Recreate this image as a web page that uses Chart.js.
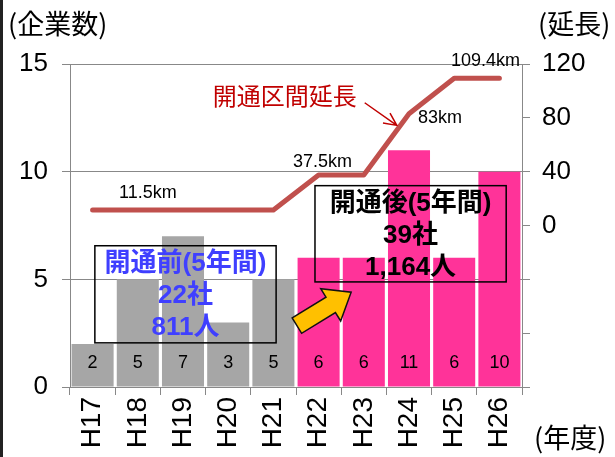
<!DOCTYPE html>
<html>
<head>
<meta charset="utf-8">
<script src="https://cdn.jsdelivr.net/npm/chart.js@4.4.1/dist/chart.umd.min.js"></script>
<style>
  html, body { margin: 0; padding: 0; background: #fff; }
  #wrap { position: relative; width: 615px; height: 457px; }
  #edge { position: absolute; left: 0; top: 0; width: 3px; height: 457px; background: #222; }
</style>
</head>
<body>
<div id="wrap">
  <canvas id="chart"></canvas>
  <div id="edge"></div>
</div>
<script>
// data
const years = ['H17', 'H18', 'H19', 'H20', 'H21', 'H22', 'H23', 'H24', 'H25', 'H26'];
const companies = [2, 5, 7, 3, 5, 6, 6, 11, 6, 10];
const lengthKm = [11.5, 11.5, 11.5, 11.5, 11.5, 37.5, 37.5, 83, 109.4, 109.4];
const kmLabelIdx = [1, 5, 7, 9];
const kmLabels = ['11.5km', '37.5km', '83km', '109.4km'];
const beforeText = ['開通前(5年間)', '22社', '811人'];
const afterText = ['開通後(5年間)', '39社', '1,164人'];

const GRAY = '#A6A6A6';
const PINK = '#FF3399';
const LINE = '#C0504D';
const FONT = "'Liberation Sans', Arial, 'Noto Sans CJK JP', sans-serif";
const CJK = "'Noto Sans CJK JP', 'Liberation Sans', sans-serif";

const barColors = companies.map((v, i) => i < 5 ? GRAY : PINK);

function arrowHead(ctx, x1, y1, x2, y2, len) {
  const a = Math.atan2(y2 - y1, x2 - x1);
  ctx.beginPath();
  ctx.moveTo(x1, y1);
  ctx.lineTo(x2, y2);
  ctx.moveTo(x2 - len * Math.cos(a - 0.45), y2 - len * Math.sin(a - 0.45));
  ctx.lineTo(x2, y2);
  ctx.lineTo(x2 - len * Math.cos(a + 0.45), y2 - len * Math.sin(a + 0.45));
  ctx.stroke();
}

function blockArrow(ctx, x1, y1, x2, y2) {
  const a = Math.atan2(y2 - y1, x2 - x1);
  const L = Math.hypot(x2 - x1, y2 - y1);
  const hw = 9, hh = 19, hl = 24;
  ctx.save();
  ctx.translate(x1, y1);
  ctx.rotate(a);
  ctx.beginPath();
  ctx.moveTo(0, -hw);
  ctx.lineTo(L - hl, -hw);
  ctx.lineTo(L - hl, -hh);
  ctx.lineTo(L, 0);
  ctx.lineTo(L - hl, hh);
  ctx.lineTo(L - hl, hw);
  ctx.lineTo(0, hw);
  ctx.closePath();
  ctx.fillStyle = '#FFC000';
  ctx.fill();
  ctx.lineWidth = 1.5;
  ctx.strokeStyle = '#111';
  ctx.stroke();
  ctx.restore();
}

const extras = {
  id: 'extras',
  afterDatasetsDraw(chart) {
    const ctx = chart.ctx;
    const x = chart.scales.x, y = chart.scales.y;
    const bars = chart.getDatasetMeta(0).data;
    const pts = chart.getDatasetMeta(1).data;
    ctx.save();
    ctx.textAlign = 'center';
    ctx.textBaseline = 'middle';

    // values inside bars
    ctx.fillStyle = '#000';
    ctx.font = '18px ' + FONT;
    bars.forEach((b, i) => ctx.fillText(companies[i], b.x, y.getPixelForValue(0) - 24));

    // km labels next to the line
    const offs = [[10, -17], [4, -13], [31, 4], [-14, -17]];
    kmLabels.forEach((t, k) => {
      const p = pts[kmLabelIdx[k]];
      ctx.fillText(t, p.x + offs[k][0], p.y + offs[k][1]);
    });

    // line caption + pointer
    ctx.fillStyle = '#C00000';
    ctx.font = '24px ' + CJK;
    ctx.fillText('開通区間延長', x.getPixelForValue(4.25), y.getPixelForValue(13.5));
    ctx.strokeStyle = '#C00000';
    ctx.lineWidth = 1.5;
    arrowHead(ctx, x.getPixelForValue(6.02), y.getPixelForValue(13.2),
      x.getPixelForValue(6.73), y.getPixelForValue(12.15), 14);

    // before / after boxes
    const boxes = [
      { l: 0.05, r: 4.06, t: 6.56, b: 2.05, txt: beforeText, col: '#3F3FFF' },
      { l: 4.92, r: 9.15, t: 9.35, b: 4.88, txt: afterText, col: '#000' }
    ];
    boxes.forEach(bx => {
      const l = x.getPixelForValue(bx.l), r = x.getPixelForValue(bx.r);
      const t = y.getPixelForValue(bx.t), bt = y.getPixelForValue(bx.b);
      ctx.strokeStyle = '#000';
      ctx.lineWidth = 1.5;
      ctx.strokeRect(l, t, r - l, bt - t);
      ctx.fillStyle = bx.col;
      ctx.font = 'bold 26px ' + FONT;
      bx.txt.forEach((s, k) => ctx.fillText(s, (l + r) / 2, t + 18 + k * 32));
    });

    // yellow arrow from before to after
    blockArrow(ctx, x.getPixelForValue(4.52), y.getPixelForValue(2.85),
      x.getPixelForValue(5.72), y.getPixelForValue(4.4));

    // axis captions
    ctx.fillStyle = '#000';
    ctx.font = '27px ' + CJK;
    ctx.textAlign = 'left';
    ctx.fillText('(企業数)', 8, 24);
    ctx.fillText('(延長)', 538, 24);
    ctx.fillText('(年度)', 534, 438);
    ctx.restore();
  }
};

new Chart(document.getElementById('chart'), {
  data: {
    labels: years,
    datasets: [
      {
        type: 'bar',
        data: companies,
        backgroundColor: barColors,
        yAxisID: 'y',
        categoryPercentage: 1,
        barPercentage: 0.93,
        order: 2
      },
      {
        type: 'line',
        data: lengthKm,
        borderColor: LINE,
        borderWidth: 5,
        borderCapStyle: 'round',
        borderJoinStyle: 'round',
        pointRadius: 0,
        yAxisID: 'y2',
        order: 1
      }
    ]
  },
  options: {
    responsive: true,
    maintainAspectRatio: false,
    animation: false,
    layout: { padding: { top: 64, left: 0, right: 0, bottom: 0 } },
    plugins: { legend: { display: false }, tooltip: { enabled: false } },
    scales: {
      x: {
        offset: true,
        grid: { offset: true, drawOnChartArea: false, tickLength: 8, color: '#888' },
        border: { color: '#888' },
        ticks: { minRotation: 90, maxRotation: 90, color: '#000', padding: 2, font: { family: FONT, size: 28 } },
        afterFit(s) { s.height = 70; }
      },
      y: {
        position: 'left',
        min: 0,
        max: 15,
        ticks: { stepSize: 5, color: '#000', padding: 14, font: { family: FONT, size: 26 } },
        grid: { color: '#888', tickLength: 8 },
        border: { color: '#888' },
        afterFit(s) { s.width = 70; }
      },
      y2: {
        position: 'right',
        min: -120,
        max: 120,
        ticks: {
          stepSize: 40,
          color: '#000',
          padding: 12,
          font: { family: FONT, size: 26 },
          callback: v => v < 0 ? '' : v
        },
        grid: { drawOnChartArea: false, tickLength: 8, color: '#888' },
        border: { color: '#888' },
        afterFit(s) { s.width = 93; }
      }
    }
  },
  plugins: [extras]
});
</script>
</body>
</html>
